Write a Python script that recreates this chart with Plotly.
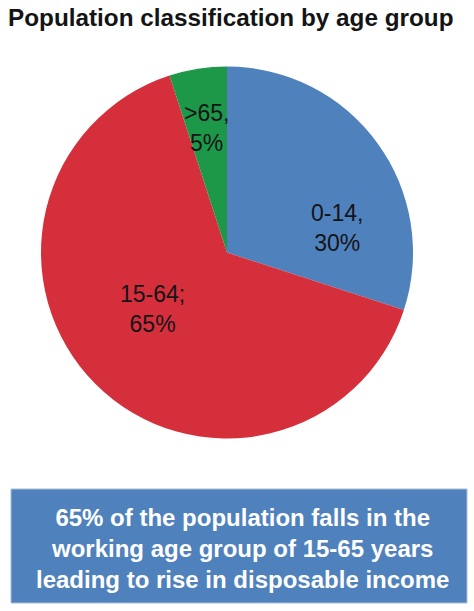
import plotly.graph_objects as go

categories = ["0-14", "15-64", ">65"]
values = [30, 65, 5]
label_texts = ["0-14,<br>30%", "15-64;<br>65%", ">65,<br>5%"]
colors = ["#4F81BD", "#D52F3B", "#1D9848"]
title_text = "Population classification by age group"
note_lines = ["65% of the population falls in the",
              "working age group of 15-65 years",
              "leading to rise in disposable income"]

# label placement (pixel centres in the 474x611 canvas)
label_pos = [(337, 228), (152, 309), (206, 128)]

W, H = 474, 611
FONT = "Arial, Liberation Sans, sans-serif"

fig = go.Figure(go.Pie(
    labels=categories,
    values=values,
    textinfo="none",
    sort=False,
    direction="clockwise",
    rotation=0,
    marker=dict(colors=colors, line=dict(width=0)),
    showlegend=False,
    hoverinfo="label+percent",
    domain=dict(x=[41 / W, 413 / W], y=[1 - 439 / H, 1 - 66 / H]),
))

for txt, (px, py) in zip(label_texts, label_pos):
    fig.add_annotation(text=txt, xref="paper", yref="paper",
                       x=px / W, y=1 - py / H, xanchor="center", yanchor="middle",
                       showarrow=False, align="center",
                       font=dict(family=FONT, size=23, color="#141418"))

fig.add_shape(type="rect", xref="paper", yref="paper",
              x0=11 / W, x1=467 / W, y0=1 - 603 / H, y1=1 - 489 / H,
              fillcolor="#4F81BD", line=dict(color="#A9BFDC", width=1), layer="below")

fig.add_annotation(text="<br>".join("<b>" + l + "</b>" for l in note_lines),
                   xref="paper", yref="paper",
                   x=243 / W, y=1 - 548 / H, xanchor="center", yanchor="middle",
                   showarrow=False, align="center",
                   font=dict(family=FONT, size=24, color="white"))
fig.add_annotation(text="<b>" + title_text + "</b>", xref="paper", yref="paper",
                   x=231 / W, y=1 - 17 / H, xanchor="center", yanchor="middle",
                   showarrow=False,
                   font=dict(family=FONT, size=24.3, color="#141414"))

fig.update_layout(width=W, height=H, margin=dict(l=0, r=0, t=0, b=0),
                  paper_bgcolor="white", plot_bgcolor="white")

fig.write_html("out.html", config={"displayModeBar": False},
               post_script="document.body.style.margin='0px';")
